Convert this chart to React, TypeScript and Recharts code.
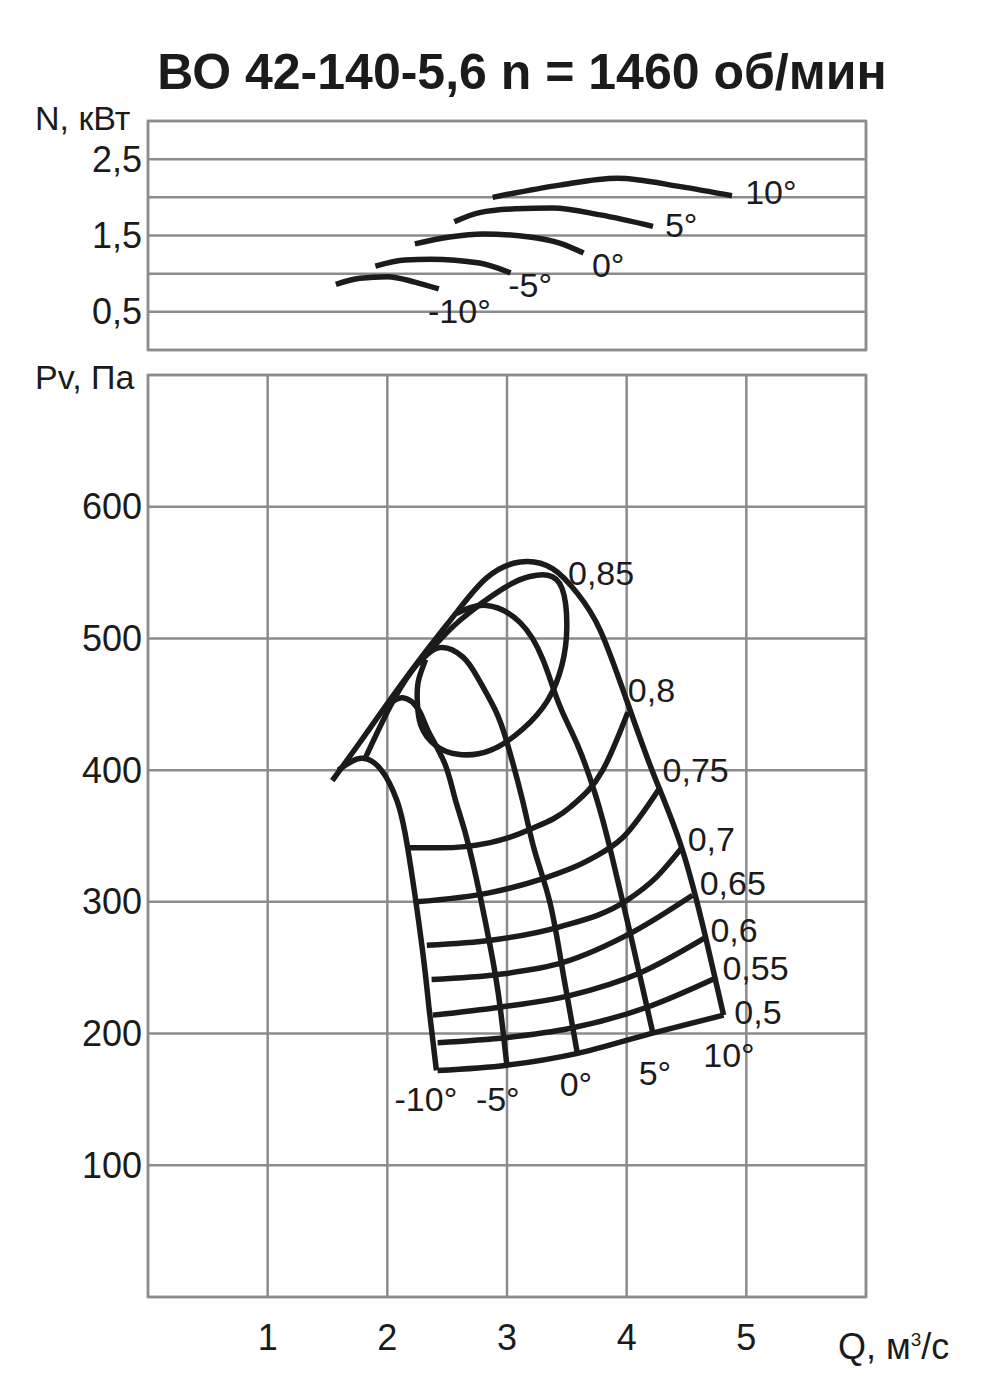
import React from 'react';
import {
  ComposedChart,
  Line,
  Scatter,
  XAxis,
  YAxis,
  CartesianGrid,
  ReferenceArea,
} from 'recharts';

const FONT = '"Liberation Sans", Arial, sans-serif';
const INK = '#1b1b1b';
const GRID = '#8c8c8c';

// x axis, Q m3/s
const qTicks = [0, 1, 2, 3, 4, 5, 6];
const qLabels = [1, 2, 3, 4, 5];

// top panel, N kW
const nTicks = [0, 0.5, 1, 1.5, 2, 2.5, 3];
const nLabels = [0.5, 1.5, 2.5];

// bottom panel, Pv Pa
const pTicks = [0, 100, 200, 300, 400, 500, 600, 700];
const pLabels = [100, 200, 300, 400, 500, 600];

// power curves per blade angle
const powerM10 = [
  { q: 1.57, n: 0.86 }, { q: 1.77, n: 0.94 }, { q: 2.0, n: 0.96 }, { q: 2.23, n: 0.89 }, { q: 2.43, n: 0.8 },
];
const powerM5 = [
  { q: 1.9, n: 1.1 }, { q: 2.15, n: 1.18 }, { q: 2.36, n: 1.19 }, { q: 2.77, n: 1.14 }, { q: 3.03, n: 1.01 },
];
const power0 = [
  { q: 2.23, n: 1.39 }, { q: 2.52, n: 1.48 }, { q: 2.8, n: 1.52 }, { q: 3.19, n: 1.48 }, { q: 3.44, n: 1.4 }, { q: 3.64, n: 1.27 },
];
const power5 = [
  { q: 2.56, n: 1.68 }, { q: 2.77, n: 1.8 }, { q: 3.07, n: 1.85 }, { q: 3.38, n: 1.86 }, { q: 3.78, n: 1.77 }, { q: 4.22, n: 1.62 },
];
const power10 = [
  { q: 2.88, n: 2.0 }, { q: 3.44, n: 2.16 }, { q: 3.92, n: 2.25 }, { q: 4.45, n: 2.14 }, { q: 4.88, n: 2.02 },
];

const powerLabels = [
  { q: 4.99, n: 2.07, text: '10°' },
  { q: 4.32, n: 1.64, text: '5°' },
  { q: 3.71, n: 1.11, text: '0°' },
  { q: 3.01, n: 0.85, text: '-5°' },
  { q: 2.34, n: 0.51, text: '-10°' },
];

// pressure curves per blade angle
const pressM10 = [
  { q: 1.59, p: 400 }, { q: 1.78, p: 409 }, { q: 1.95, p: 400 }, { q: 2.08, p: 377 }, { q: 2.17, p: 341 },
  { q: 2.29, p: 266 }, { q: 2.35, p: 218 }, { q: 2.41, p: 172 },
];
const pressM5 = [
  { q: 2.0, p: 449 }, { q: 2.13, p: 455 }, { q: 2.26, p: 446 }, { q: 2.34, p: 430 }, { q: 2.48, p: 405 },
  { q: 2.57, p: 377 }, { q: 2.69, p: 339 }, { q: 2.86, p: 266 }, { q: 2.94, p: 222 }, { q: 3.0, p: 175 },
];
const press0 = [
  { q: 2.26, p: 481 }, { q: 2.44, p: 493 }, { q: 2.63, p: 486 }, { q: 2.75, p: 471 }, { q: 2.9, p: 446 },
  { q: 3.0, p: 421 }, { q: 3.13, p: 377 }, { q: 3.23, p: 339 }, { q: 3.36, p: 299 }, { q: 3.47, p: 245 }, { q: 3.59, p: 184 },
];
const press5 = [
  { q: 2.58, p: 519 }, { q: 2.83, p: 525 }, { q: 3.11, p: 512 }, { q: 3.3, p: 484 }, { q: 3.44, p: 449 },
  { q: 3.59, p: 419 }, { q: 3.74, p: 381 }, { q: 3.86, p: 341 }, { q: 4.03, p: 276 }, { q: 4.22, p: 200 },
];
const press10 = [
  { q: 1.54, p: 392 }, { q: 1.77, p: 421 }, { q: 2.02, p: 453 }, { q: 2.33, p: 491 }, { q: 2.58, p: 520 },
  { q: 2.83, p: 546 }, { q: 3.11, p: 558 }, { q: 3.38, p: 553 }, { q: 3.59, p: 534 }, { q: 3.78, p: 506 },
  { q: 4.0, p: 453 }, { q: 4.22, p: 398 }, { q: 4.46, p: 341 }, { q: 4.66, p: 273 }, { q: 4.81, p: 214 },
];

// efficiency contours
const eff85 = [
  { q: 1.82, p: 410 }, { q: 2.01, p: 446 }, { q: 2.21, p: 476 }, { q: 2.42, p: 497 }, { q: 2.61, p: 514 },
  { q: 2.97, p: 538 }, { q: 3.19, p: 547 }, { q: 3.34, p: 548 }, { q: 3.46, p: 538 }, { q: 3.5, p: 509 },
  { q: 3.46, p: 480 }, { q: 3.34, p: 453 }, { q: 3.13, p: 431 }, { q: 2.86, p: 415 }, { q: 2.59, p: 412 },
  { q: 2.4, p: 419 }, { q: 2.28, p: 434 }, { q: 2.25, p: 453 }, { q: 2.26, p: 468 }, { q: 2.32, p: 484 },
];
const eff80 = [
  { q: 2.16, p: 341 }, { q: 2.44, p: 341 }, { q: 2.86, p: 345 }, { q: 3.19, p: 355 }, { q: 3.53, p: 372 },
  { q: 3.8, p: 400 }, { q: 4.01, p: 444 },
];
const eff75 = [
  { q: 2.24, p: 300 }, { q: 2.86, p: 307 }, { q: 3.28, p: 317 }, { q: 3.69, p: 332 }, { q: 3.97, p: 349 }, { q: 4.28, p: 387 },
];
const eff70 = [
  { q: 2.33, p: 267 }, { q: 2.88, p: 271 }, { q: 3.44, p: 281 }, { q: 4.0, p: 301 }, { q: 4.24, p: 318 }, { q: 4.46, p: 341 },
];
const eff65 = [
  { q: 2.37, p: 241 }, { q: 2.94, p: 245 }, { q: 3.47, p: 254 }, { q: 4.05, p: 277 }, { q: 4.55, p: 305 },
];
const eff60 = [
  { q: 2.38, p: 214 }, { q: 2.94, p: 220 }, { q: 3.53, p: 229 }, { q: 4.11, p: 246 }, { q: 4.66, p: 273 },
];
const eff55 = [
  { q: 2.42, p: 193 }, { q: 3.0, p: 197 }, { q: 3.53, p: 204 }, { q: 4.17, p: 220 }, { q: 4.74, p: 242 },
];
const eff50 = [
  { q: 2.42, p: 172 }, { q: 3.0, p: 176 }, { q: 3.59, p: 185 }, { q: 4.2, p: 200 }, { q: 4.81, p: 214 },
];

const pressLabels = [
  { q: 3.51, p: 550, text: '0,85' },
  { q: 4.01, p: 461, text: '0,8' },
  { q: 4.3, p: 400, text: '0,75' },
  { q: 4.51, p: 348, text: '0,7' },
  { q: 4.61, p: 314, text: '0,65' },
  { q: 4.7, p: 279, text: '0,6' },
  { q: 4.8, p: 250, text: '0,55' },
  { q: 4.9, p: 216, text: '0,5' },
  { q: 2.06, p: 150, text: '-10°' },
  { q: 2.74, p: 150, text: '-5°' },
  { q: 3.44, p: 162, text: '0°' },
  { q: 4.1, p: 170, text: '5°' },
  { q: 4.64, p: 184, text: '10°' },
];

const fmt = (v: number) => String(v).replace('.', ',');

const yTick = (shown: number[]) => (props: any) => {
  const { x, y, payload } = props;
  if (!shown.includes(payload.value)) return <g />;
  return (
    <text x={x} y={y} textAnchor="end" dominantBaseline="central" fontSize={36} fill={INK} fontFamily={FONT}>
      {fmt(payload.value)}
    </text>
  );
};

const xTick = (props: any) => {
  const { x, y, payload } = props;
  if (!qLabels.includes(payload.value)) return <g />;
  return (
    <text x={x} y={y + 40} textAnchor="middle" dominantBaseline="central" fontSize={36} fill={INK} fontFamily={FONT}>
      {payload.value}
    </text>
  );
};

const textShape = (size: number) => (props: any) => (
  <text x={props.cx} y={props.cy} dominantBaseline="central" fontSize={size} fill={INK} fontFamily={FONT}>
    {props.payload.text}
  </text>
);

const curve = (data: any[], key: string, type: any = 'monotone') => (
  <Line
    data={data}
    dataKey={key}
    type={type}
    stroke={INK}
    strokeWidth={5.5}
    dot={false}
    activeDot={false}
    isAnimationActive={false}
  />
);

const abs = (left: number, top: number, extra: any = {}) => ({
  position: 'absolute' as const,
  left,
  top,
  fontFamily: FONT,
  color: INK,
  whiteSpace: 'nowrap' as const,
  ...extra,
});

export default function App() {
  return (
    <div style={{ position: 'absolute', left: 0, top: 0, width: 981, height: 1390, background: '#fff', overflow: 'hidden' }}>
      <div style={abs(122, 47, { width: 800, textAlign: 'center', fontSize: 50, fontWeight: 'bold', lineHeight: '50px' })}>
        ВО 42-140-5,6 n = 1460 об/мин
      </div>
      <div style={abs(35, 101, { fontSize: 34, lineHeight: '34px' })}>N, кВт</div>
      <div style={abs(35, 360, { fontSize: 34, lineHeight: '34px' })}>Pv, Па</div>
      <div style={abs(838, 1322, { fontSize: 36, lineHeight: '36px' })}>
        Q, м<sup style={{ fontSize: 19 }}>3</sup>/с
      </div>

      <div style={{ position: 'absolute', left: 0, top: 0 }}>
        <ComposedChart width={981} height={360} margin={{ top: 121, right: 115, bottom: 0, left: 0 }}>
          <CartesianGrid stroke={GRID} strokeWidth={2.5} />
          <XAxis dataKey="q" type="number" domain={[0, 6]} ticks={qTicks} height={10} tick={false} tickLine={false} axisLine={false} />
          <YAxis type="number" domain={[0, 3]} ticks={nTicks} width={148} tickSize={0} tickMargin={6} axisLine={false} tick={yTick(nLabels)} interval={0} />
          <ReferenceArea x1={0} x2={6} y1={0} y2={3} fill="none" fillOpacity={0} stroke={GRID} strokeWidth={2.5} />
          {curve(powerM10, 'n')}
          {curve(powerM5, 'n')}
          {curve(power0, 'n')}
          {curve(power5, 'n')}
          {curve(power10, 'n')}
          <Scatter data={powerLabels} dataKey="n" shape={textShape(34)} isAnimationActive={false} />
        </ComposedChart>
      </div>

      <div style={{ position: 'absolute', left: 0, top: 360 }}>
        <ComposedChart width={981} height={1030} margin={{ top: 15, right: 115, bottom: 0, left: 0 }}>
          <CartesianGrid stroke={GRID} strokeWidth={2.5} />
          <XAxis dataKey="q" type="number" domain={[0, 6]} ticks={qTicks} height={93} tickSize={0} tickMargin={0} axisLine={false} tick={xTick} interval={0} />
          <YAxis type="number" domain={[0, 700]} ticks={pTicks} width={148} tickSize={0} tickMargin={6} axisLine={false} tick={yTick(pLabels)} interval={0} />
          <ReferenceArea x1={0} x2={6} y1={0} y2={700} fill="none" fillOpacity={0} stroke={GRID} strokeWidth={2.5} />
          {curve(press10, 'p', 'natural')}
          {curve(press5, 'p', 'natural')}
          {curve(press0, 'p', 'natural')}
          {curve(pressM5, 'p', 'natural')}
          {curve(pressM10, 'p', 'natural')}
          {curve(eff85, 'p', 'natural')}
          {curve(eff80, 'p')}
          {curve(eff75, 'p')}
          {curve(eff70, 'p')}
          {curve(eff65, 'p')}
          {curve(eff60, 'p')}
          {curve(eff55, 'p')}
          {curve(eff50, 'p')}
          <Scatter data={pressLabels} dataKey="p" shape={textShape(34)} isAnimationActive={false} />
        </ComposedChart>
      </div>
    </div>
  );
}
